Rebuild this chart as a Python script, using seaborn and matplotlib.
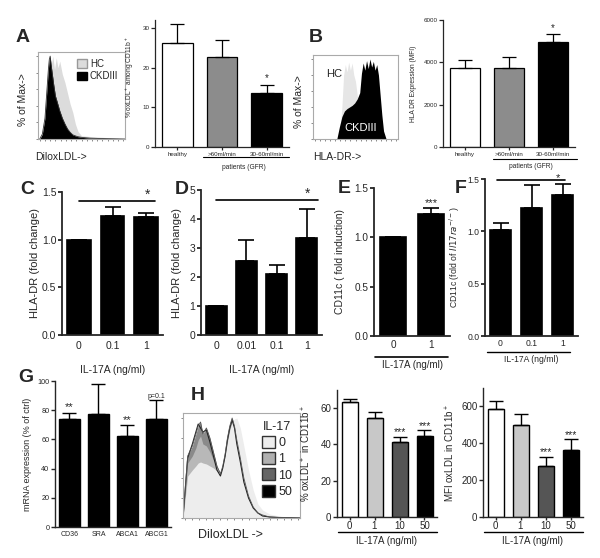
import numpy as np
import matplotlib
matplotlib.use('Agg')
import matplotlib.pyplot as plt
from matplotlib.patches import Patch
import seaborn as sns

sns.set_style('ticks')
plt.rcParams['font.family'] = ['Liberation Sans', 'DejaVu Sans']
plt.rcParams['mathtext.default'] = 'regular'

# ---- data ----
groups = ['healthy', '>60ml/min', '30-60ml/min']
a_oxldl = [26.3, 22.8, 13.7]
a_err = [4.6, 4.2, 1.9]
b_hladr = [3710, 3710, 4975]
b_err = [390, 520, 360]
grp_colors = ['white', '#8c8c8c', 'black']

c_dose = ['0', '0.1', '1']
c_fold = [1.0, 1.245, 1.233]
c_err = [0.0, 0.10, 0.05]

d_dose = ['0', '0.01', '0.1', '1']
d_fold = [1.0, 2.55, 2.09, 3.34]
d_err = [0.0, 0.71, 0.31, 1.0]

e_dose = ['0', '1']
e_fold = [1.0, 1.24]
e_err = [0.0, 0.06]

f_dose = ['0', '0.1', '1']
f_fold = [1.01, 1.22, 1.35]
f_err = [0.07, 0.22, 0.10]

g_genes = ['CD36', 'SRA', 'ABCA1', 'ABCG1']
g_expr = [74.2, 77.6, 62.3, 74.2]
g_err = [4.0, 20.4, 7.3, 12.5]
g_marks = ['**', '', '**', 'p=0.1']

h_dose = ['0', '1', '10', '50']
h_pct = [63.3, 54.7, 41.5, 44.6]
h_pct_err = [1.7, 3.3, 2.7, 3.3]
h_mfi = [585, 500, 278, 362]
h_mfi_err = [43, 58, 48, 60]
h_colors = ['white', '#c8c8c8', '#555555', 'black']

# flow histograms (x in % of channel range, y in % of max)
a_ckd_x = [2, 5, 8, 10, 12, 13, 14, 15, 16, 18, 20, 22, 25, 28, 31, 34, 37, 40, 45, 50, 60, 75, 100]
a_ckd_y = [0, 6, 25, 55, 85, 96, 100, 90, 82, 66, 52, 45, 34, 25, 18, 12, 8, 5, 3, 2, 1, 0.5, 0]
a_hc_x = [4, 7, 9, 11, 13, 15, 17, 19, 21, 23, 25, 28, 31, 34, 37, 40, 43, 46, 50, 60, 75, 90, 100]
a_hc_y = [0, 20, 50, 80, 95, 88, 100, 84, 98, 86, 94, 78, 68, 55, 42, 32, 18, 9, 4, 3, 2, 1, 0]

b_hc_x = [31, 34, 36, 38, 40, 42, 44, 46, 48, 50, 52, 54, 56, 58]
b_hc_y = [0, 40, 80, 93, 84, 96, 86, 95, 80, 72, 55, 38, 18, 0]
b_ckd_x = [28, 31, 34, 37, 40, 43, 46, 49, 52, 55, 57, 59, 61, 63, 65, 67, 69, 71, 73, 75, 77, 79, 81, 83, 86]
b_ckd_y = [0, 15, 28, 35, 38, 40, 42, 45, 50, 58, 82, 95, 86, 98, 88, 100, 90, 97, 86, 93, 80, 55, 30, 10, 0]

h_x = [0, 4, 8, 11, 13, 15, 17, 20, 23, 26, 29, 32, 34, 36, 38, 40, 42, 44, 46, 49, 52, 56, 60, 64, 68, 74, 82, 90, 100]
h_y0 = [0, 42, 48, 52, 55, 56, 55, 54, 52, 50, 47, 45, 52, 62, 76, 88, 96, 99, 100, 90, 72, 48, 28, 14, 8, 4, 2, 1, 0]
h_y1 = [0, 55, 62, 70, 78, 82, 74, 72, 66, 58, 50, 46, 54, 64, 78, 90, 97, 96, 86, 70, 50, 30, 16, 8, 4, 2, 1, 0.5, 0]
h_y10 = [0, 62, 72, 84, 92, 96, 84, 90, 80, 66, 52, 44, 52, 64, 80, 92, 100, 92, 78, 60, 40, 22, 11, 5, 3, 1, 0.5, 0.3, 0]
h_y50 = [0, 60, 74, 86, 94, 90, 86, 88, 76, 62, 48, 42, 50, 62, 78, 90, 98, 90, 74, 56, 36, 20, 10, 5, 2, 1, 0.5, 0.3, 0]

W, H = 600, 558
fig = plt.figure(figsize=(6, 5.58), dpi=100)


def add_ax(l, t, r, b):
    return fig.add_axes([l / W, 1 - b / H, (r - l) / W, (b - t) / H])


def bar_panel(ax, cats, vals, errs, colors, width, lw=1.0, cap=4):
    sns.barplot(x=cats, y=vals, hue=cats, palette=colors, legend=False, width=width,
                edgecolor='black', linewidth=lw, saturation=1, ax=ax)
    n = len(vals)
    ax.errorbar(range(n), vals, yerr=[np.zeros(n), errs], fmt='none', ecolor='black',
                elinewidth=lw, capsize=cap, capthick=lw)
    sns.despine(ax=ax)
    ax.set_xlim(-0.5, n - 0.5)


def style(ax, tick_fs, spine_lw=1.0, xtick_len=0):
    for s in ['left', 'bottom']:
        ax.spines[s].set_linewidth(spine_lw)
    ax.tick_params(axis='y', labelsize=tick_fs, length=3, width=spine_lw, pad=1)
    ax.tick_params(axis='x', labelsize=tick_fs, length=xtick_len, width=spine_lw, pad=4)


def letter(x, y, s):
    fig.text(x / W, 1 - y / H, s, fontsize=14, fontweight='bold', va='center', ha='left')


def under(ax, x0, x1, yf, lw=1.0):
    ax.plot([x0, x1], [yf, yf], color='black', lw=lw, clip_on=False,
            transform=ax.get_xaxis_transform())


def flow_box(ax):
    for s in ax.spines.values():
        s.set_color('#aaaaaa')
        s.set_linewidth(0.8)
    ax.set_xlim(0, 100)
    ax.set_ylim(0, 105)
    ax.set_xticks(np.arange(2, 100, 6))
    ax.set_yticks(np.arange(0, 101, 20))
    ax.tick_params(length=1.5, width=0.6, color='#777777', labelbottom=False, labelleft=False)


# ---- A ----
letter(16, 38, 'A')
ax = add_ax(38, 52, 125, 139)
ax.fill_between(a_hc_x, a_hc_y, color='#dcdcdc', lw=0)
ax.fill_between(a_ckd_x, a_ckd_y, color='black', lw=0)
ax.plot(a_ckd_x, a_ckd_y, color='#333333', lw=0.6)
flow_box(ax)
ax.legend(handles=[Patch(facecolor='#dcdcdc', edgecolor='#999999', label='HC'),
                   Patch(facecolor='black', edgecolor='black', label='CKDIII')],
          loc='upper right', frameon=False, fontsize=7, handlelength=1.0, handleheight=1.0,
          handletextpad=0.3, labelspacing=0.25, borderaxespad=0.3)
ax.set_ylabel('% of Max->', fontsize=7.5)
ax.yaxis.set_label_coords(-0.12, 0.45)
fig.text(35 / W, 1 - 157 / H, 'DiloxLDL->', fontsize=7.5, va='center')

ax = add_ax(155, 20, 289, 147)
bar_panel(ax, groups, a_oxldl, a_err, grp_colors, 0.68, lw=0.9, cap=5)
style(ax, 4.5, 0.9, xtick_len=2)
ax.set_ylim(0, 32)
ax.set_yticks([0, 10, 20, 30])
ax.set_ylabel('% oxLDL$^+$ among CD11b$^+$', fontsize=4.8)
ax.yaxis.set_label_coords(-0.14, 0.55)
ax.tick_params(axis='x', pad=1.5)
ax.text(2, a_oxldl[2] + a_err[2] + 1.0, '*', ha='center', fontsize=7)
under(ax, 0.57, 2.5, -0.08, lw=0.8)
ax.text(1.5, -0.16, 'patients (GFR)', ha='center', va='center', fontsize=4.8,
        transform=ax.get_xaxis_transform())

# ---- B ----
letter(309, 38, 'B')
ax = add_ax(313, 55, 398, 139)
ax.fill_between(b_hc_x, b_hc_y, color='#e6e6e6', lw=0)
ax.fill_between(b_ckd_x, b_ckd_y, color='black', lw=0)
flow_box(ax)
ax.text(16, 78, 'HC', fontsize=8)
ax.text(56, 10, 'CKDIII', fontsize=8, color='white', ha='center')
ax.set_ylabel('% of Max->', fontsize=7.5)
ax.yaxis.set_label_coords(-0.1, 0.45)
fig.text(313 / W, 1 - 157 / H, 'HLA-DR->', fontsize=7.5, va='center')

ax = add_ax(443, 20, 575, 147)
bar_panel(ax, groups, b_hladr, b_err, grp_colors, 0.68, lw=0.9, cap=5)
style(ax, 4.5, 0.9, xtick_len=2)
ax.set_ylim(0, 6000)
ax.set_yticks([0, 2000, 4000, 6000])
ax.set_ylabel('HLA DR Expression (MFI)', fontsize=4.8)
ax.yaxis.set_label_coords(-0.2, 0.5)
ax.tick_params(axis='x', pad=1.5)
ax.text(2, b_hladr[2] + b_err[2] + 120, '*', ha='center', fontsize=7)
under(ax, 0.64, 2.55, -0.094, lw=0.8)
ax.text(1.5, -0.15, 'patients (GFR)', ha='center', va='center', fontsize=4.8,
        transform=ax.get_xaxis_transform())

# ---- C ----
letter(20, 190, 'C')
ax = add_ax(62, 192, 163, 335)
bar_panel(ax, c_dose, c_fold, c_err, ['black'] * 3, 0.7, lw=1.2, cap=6)
style(ax, 7.5, 1.3)
ax.set_ylim(0, 1.5)
ax.set_yticks([0, 0.5, 1.0, 1.5])
ax.set_yticklabels(['0.0', '0.5', '1.0', '1.5'])
ax.set_ylabel('HLA-DR (fold change)', fontsize=8)
ax.yaxis.set_label_coords(-0.22, 0.5)
ax.set_xlabel('IL-17A (ng/ml)', fontsize=7.5)
ax.xaxis.set_label_coords(0.5, -0.21)
ax.plot([0, 2.25], [1.405, 1.405], color='black', lw=1.2, clip_on=False)
ax.text(2.05, 1.43, '*', ha='center', fontsize=10)

# ---- D ----
letter(175, 190, 'D')
ax = add_ax(201, 190, 322, 335)
bar_panel(ax, d_dose, d_fold, d_err, ['black'] * 4, 0.7, lw=1.2, cap=6)
style(ax, 7.5, 1.3)
ax.set_ylim(0, 5)
ax.set_yticks([0, 1, 2, 3, 4, 5])
ax.set_ylabel('HLA-DR (fold change)', fontsize=8)
ax.yaxis.set_label_coords(-0.16, 0.5)
ax.set_xlabel('IL-17A (ng/ml)', fontsize=7.5)
ax.xaxis.set_label_coords(0.5, -0.21)
ax.plot([0, 3.37], [4.65, 4.65], color='black', lw=1.2, clip_on=False)
ax.text(3.03, 4.72, '*', ha='center', fontsize=10)

# ---- E ----
letter(338, 189, 'E')
ax = add_ax(374, 188, 450, 336)
bar_panel(ax, e_dose, e_fold, e_err, ['black'] * 2, 0.68, lw=1.2, cap=6)
style(ax, 7.2, 1.3)
ax.set_ylim(0, 1.5)
ax.set_yticks([0, 0.5, 1.0, 1.5])
ax.set_yticklabels(['0.0', '0.5', '1.0', '1.5'])
ax.set_ylabel('CD11c ( fold induction)', fontsize=7.5)
ax.yaxis.set_label_coords(-0.38, 0.5)
ax.tick_params(axis='x', pad=3)
under(ax, -0.48, 1.45, -0.142, lw=1.2)
ax.set_xlabel('IL-17A (ng/ml)', fontsize=7)
ax.xaxis.set_label_coords(0.5, -0.165)
ax.text(1, e_fold[1] + e_err[1] + 0.02, '***', ha='center', fontsize=8)

# ---- F ----
letter(455, 189, 'F')
ax = add_ax(485, 179, 578, 336)
bar_panel(ax, f_dose, f_fold, f_err, ['black'] * 3, 0.7, lw=1.2, cap=6)
style(ax, 6.2, 1.3)
ax.set_ylim(0, 1.5)
ax.set_yticks([0, 0.5, 1.0, 1.5])
ax.set_yticklabels(['0.0', '0.5', '1.0', '1.5'])
ax.set_ylabel('CD11c (fold of $\\it{Il17ra}^{-/-}$)', fontsize=6.2)
ax.yaxis.set_label_coords(-0.25, 0.5)
ax.tick_params(axis='x', pad=2)
under(ax, -0.44, 2.24, -0.102, lw=1.0)
ax.set_xlabel('IL-17A (ng/ml)', fontsize=6.2)
ax.xaxis.set_label_coords(0.5, -0.12)
ax.plot([-0.11, 2.08], [1.49, 1.49], color='black', lw=1.2, clip_on=False)
ax.text(1.85, 1.48, '*', ha='center', fontsize=8)

# ---- G ----
letter(18, 378, 'G')
ax = add_ax(55, 381, 171, 527)
bar_panel(ax, g_genes, g_expr, g_err, ['black'] * 4, 0.75, lw=1.0, cap=5)
style(ax, 5.2, 1.0)
ax.set_ylim(0, 100)
ax.set_yticks(np.arange(0, 101, 20))
ax.tick_params(axis='x', labelsize=5, pad=3)
ax.set_ylabel('mRNA expression (% of ctrl)', fontsize=6.5)
ax.yaxis.set_label_coords(-0.2, 0.5)
for i, m in enumerate(g_marks):
    if m:
        ax.text(i, g_expr[i] + g_err[i] + 0.5, m, ha='center', va='bottom',
                fontsize=5 if m.startswith('p') else 8)

# ---- H ----
letter(191, 396, 'H')
ax = add_ax(183, 413, 300, 518)
ax.fill_between(h_x, h_y10, color='#8a8a8a', lw=0)
ax.fill_between(h_x, h_y1, color='#b8b8b8', lw=0)
ax.plot(h_x, h_y50, color='#222222', lw=0.8)
ax.plot(h_x, h_y10, color='#555555', lw=0.6)
ax.fill_between(h_x, h_y0, color='#ededed', lw=0)
flow_box(ax)
ax.legend(handles=[Patch(facecolor=c, edgecolor='#333333', label=d)
                   for c, d in zip(['#ededed', '#b0b0b0', '#666666', 'black'], h_dose)],
          title='IL-17', title_fontsize=9, fontsize=9, loc='upper right', frameon=False,
          handlelength=1.0, handleheight=1.1, handletextpad=0.3, labelspacing=0.25,
          borderaxespad=0.2, markerfirst=True)
fig.text(198 / W, 1 - 535 / H, 'DiloxLDL ->', fontsize=9, va='center')

ax = add_ax(337, 390, 437, 517)
bar_panel(ax, h_dose, h_pct, h_pct_err, h_colors, 0.64, lw=1.0, cap=5)
style(ax, 7, 1.0, xtick_len=2)
ax.set_ylim(0, 70)
ax.set_yticks([0, 20, 40, 60])
ax.tick_params(axis='x', pad=1)
ax.set_ylabel('% oxLDL$^+$ in CD11b$^+$', fontsize=7)
ax.yaxis.set_label_coords(-0.24, 0.5)
under(ax, -0.45, 3.5, -0.118, lw=1.0)
ax.set_xlabel('IL-17A (ng/ml)', fontsize=7)
ax.xaxis.set_label_coords(0.5, -0.15)
for i in [2, 3]:
    ax.text(i, h_pct[i] + h_pct_err[i] + 0.8, '***', ha='center', fontsize=7.5)

ax = add_ax(483, 388, 583, 517)
bar_panel(ax, h_dose, h_mfi, h_mfi_err, h_colors, 0.64, lw=1.0, cap=5)
style(ax, 7, 1.0, xtick_len=2)
ax.set_ylim(0, 700)
ax.set_yticks([0, 200, 400, 600])
ax.tick_params(axis='x', pad=1)
ax.set_ylabel('MFI oxLDL in CD11b$^+$', fontsize=7)
ax.yaxis.set_label_coords(-0.26, 0.5)
under(ax, -0.45, 3.5, -0.116, lw=1.0)
ax.set_xlabel('IL-17A (ng/ml)', fontsize=7)
ax.xaxis.set_label_coords(0.5, -0.15)
for i in [2, 3]:
    ax.text(i, h_mfi[i] + h_mfi_err[i] + 8, '***', ha='center', fontsize=7.5)

fig.savefig('out.png', dpi=100)
